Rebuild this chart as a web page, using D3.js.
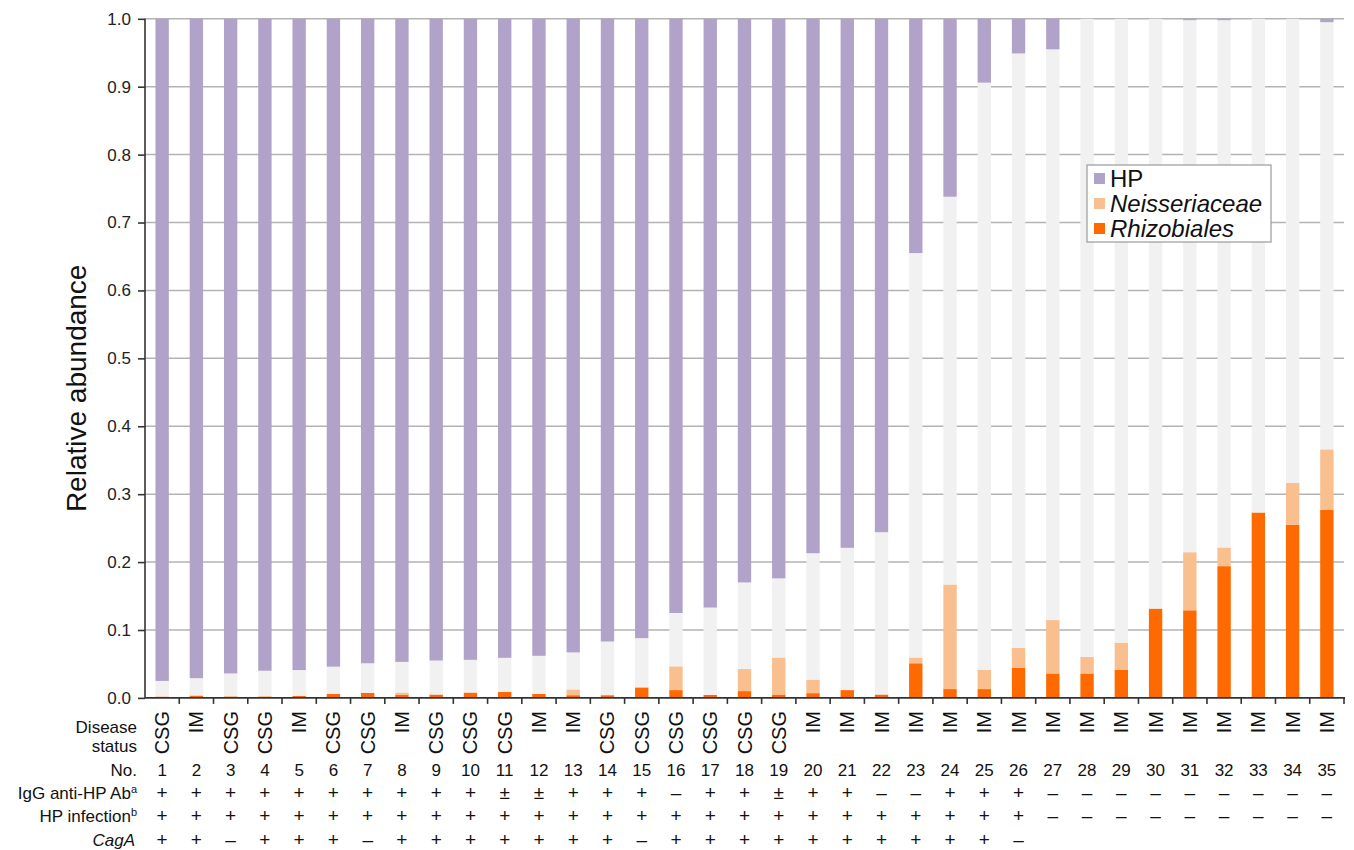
<!DOCTYPE html>
<html>
<head>
<meta charset="utf-8">
<script src="https://cdn.jsdelivr.net/npm/d3@7"></script>
<style>
  html, body { margin: 0; padding: 0; background: #fff; }
  svg { display: block; font-family: "Liberation Sans", Arial, sans-serif; }
</style>
</head>
<body>
<svg id="chart" width="1354" height="850"></svg>
<script>
// Sample numbers 1–35
const sampleNo = d3.range(1, 36);

// Relative abundance of each taxon per sample
const hp = [0.975, 0.971, 0.964, 0.960, 0.959, 0.954, 0.949, 0.947, 0.945, 0.944,
            0.941, 0.938, 0.933, 0.917, 0.912, 0.875, 0.867, 0.830, 0.824, 0.787,
            0.779, 0.756, 0.345, 0.262, 0.094, 0.051, 0.045, 0, 0, 0,
            0.002, 0.002, 0, 0, 0.005];
const neisseriaceae = [0, 0.001, 0.001, 0.002, 0, 0, 0, 0.0035, 0, 0,
            0, 0, 0.0085, 0, 0, 0.035, 0, 0.0325, 0.0545, 0.020,
            0, 0, 0.0085, 0.154, 0.0285, 0.029, 0.0786, 0.0246, 0.040, 0,
            0.0855, 0.0275, 0, 0.062, 0.089];
const rhizobiales = [0.002, 0.003, 0.002, 0.001, 0.003, 0.006, 0.0074, 0.0044, 0.005, 0.0079,
            0.009, 0.006, 0.004, 0.004, 0.0155, 0.0115, 0.0044, 0.010, 0.005, 0.007,
            0.0115, 0.005, 0.051, 0.013, 0.013, 0.0445, 0.036, 0.036, 0.0415, 0.1315,
            0.129, 0.194, 0.273, 0.2547, 0.277];

// Clinical annotations
const diseaseStatus = ["CSG","IM","CSG","CSG","IM","CSG","CSG","IM","CSG","CSG",
            "CSG","IM","IM","CSG","CSG","CSG","CSG","CSG","CSG","IM",
            "IM","IM","IM","IM","IM","IM","IM","IM","IM","IM",
            "IM","IM","IM","IM","IM"];
const igg = ["+","+","+","+","+","+","+","+","+","+",
            "±","±","+","+","+","–","+","+","±","+",
            "+","–","–","+","+","+","–","–","–","–",
            "–","–","–","–","–"];
const hpInfection = ["+","+","+","+","+","+","+","+","+","+",
            "+","+","+","+","+","+","+","+","+","+",
            "+","+","+","+","+","+","–","–","–","–",
            "–","–","–","–","–"];
const cagA = ["+","+","–","+","+","+","–","+","+","+",
            "+","+","+","+","–","+","+","+","+","+",
            "+","+","+","+","+","–","","","","",
            "","","","",""];

const yTicks = [0, 0.1, 0.2, 0.3, 0.4, 0.5, 0.6, 0.7, 0.8, 0.9, 1.0];

const colors = {
  hp: "#b1a2c9",
  other: "#f1f1f1",
  neis: "#f9bf8f",
  rhiz: "#ff6a00"
};

const svg = d3.select("#chart");
const plotLeft = 145, plotRight = 1344, plotTop = 18.8, plotBottom = 697.9;

const x = d3.scaleBand().domain(sampleNo).range([plotLeft, plotRight])
  .paddingInner(0.61).paddingOuter(0.305);
const y = d3.scaleLinear().domain([0, 1]).range([plotBottom, plotTop]);

// Stack order from the baseline: Rhizobiales, Neisseriaceae, remaining taxa, HP
const rows = sampleNo.map((n, i) => ({
  no: n,
  rhiz: rhizobiales[i],
  neis: neisseriaceae[i],
  other: Math.max(0, 1 - rhizobiales[i] - neisseriaceae[i] - hp[i]),
  hp: hp[i]
}));
const keys = ["rhiz", "neis", "other", "hp"];
const series = d3.stack().keys(keys)(rows);

// Horizontal gridlines
svg.append("g").selectAll("line").data(yTicks.filter(t => t > 0)).join("line")
  .attr("x1", plotLeft).attr("x2", plotRight)
  .attr("y1", d => y(d)).attr("y2", d => y(d))
  .attr("stroke", "#b3b3b3").attr("stroke-width", 1.5);

// Bars
svg.append("g").selectAll("g").data(series).join("g")
  .attr("fill", d => colors[d.key])
  .selectAll("rect").data(d => d).join("rect")
  .attr("x", d => x(d.data.no))
  .attr("width", x.bandwidth())
  .attr("y", d => y(d[1]))
  .attr("height", d => Math.max(0, y(d[0]) - y(d[1])));

// Y axis
const yAxis = d3.axisLeft(y).tickValues(yTicks).tickFormat(d3.format(".1f"))
  .tickSize(7).tickPadding(7);
const gy = svg.append("g").attr("transform", `translate(${plotLeft},0)`).call(yAxis);
gy.select(".domain").attr("stroke", "#333").attr("stroke-width", 1.6).attr("d", `M0,${plotBottom}V${plotTop}`);
gy.selectAll(".tick line").attr("stroke", "#333").attr("stroke-width", 1.6);
gy.selectAll(".tick text").attr("font-size", 17).attr("fill", "#222")
  .attr("font-family", "Liberation Sans, Arial, sans-serif");

// X baseline with ticks between samples
svg.append("line").attr("x1", plotLeft).attr("x2", plotRight + 1)
  .attr("y1", plotBottom).attr("y2", plotBottom)
  .attr("stroke", "#333").attr("stroke-width", 1.6);
const step = x.step();
svg.append("g").selectAll("line").data(sampleNo).join("line")
  .attr("x1", d => x(d) + x.bandwidth() / 2 + step / 2)
  .attr("x2", d => x(d) + x.bandwidth() / 2 + step / 2)
  .attr("y1", plotBottom).attr("y2", plotBottom + 6)
  .attr("stroke", "#333").attr("stroke-width", 1.6);

// Y axis title
svg.append("text")
  .attr("transform", `translate(86,${(plotTop + plotBottom) / 2 + 30}) rotate(-90)`)
  .attr("text-anchor", "middle")
  .attr("font-size", 28).attr("fill", "#111")
  .text("Relative abundance");

// Annotation table under the bars
const cx = d => x(d) + x.bandwidth() / 2;
const labelX = 137;
const fs = 17;
const table = svg.append("g").attr("font-size", fs).attr("fill", "#111");

table.append("text").attr("x", labelX).attr("y", 733).attr("text-anchor", "end").text("Disease");
table.append("text").attr("x", labelX).attr("y", 752).attr("text-anchor", "end").text("status");
table.selectAll(".ds").data(sampleNo).join("text")
  .attr("class", "ds")
  .attr("transform", d => `translate(${cx(d) + 7},711) rotate(-90)`)
  .attr("text-anchor", "end")
  .attr("font-size", 20)
  .text((d, i) => diseaseStatus[i]);

const rowY = { no: 776, igg: 799, inf: 822, cag: 846 };
table.append("text").attr("x", labelX).attr("y", rowY.no).attr("text-anchor", "end").text("No.");
table.selectAll(".no").data(sampleNo).join("text")
  .attr("class", "no").attr("x", cx).attr("y", rowY.no)
  .attr("text-anchor", "middle").text(d => d);

const iggLabel = table.append("text").attr("x", labelX).attr("y", rowY.igg).attr("text-anchor", "end");
iggLabel.append("tspan").text("IgG anti-HP Ab");
iggLabel.append("tspan").attr("font-size", 11).attr("dy", -6).text("a");

const infLabel = table.append("text").attr("x", labelX).attr("y", rowY.inf).attr("text-anchor", "end");
infLabel.append("tspan").text("HP infection");
infLabel.append("tspan").attr("font-size", 11).attr("dy", -6).text("b");

table.append("text").attr("x", labelX - 2).attr("y", rowY.cag).attr("text-anchor", "end")
  .attr("font-style", "italic").text("CagA");

function signRow(values, yy) {
  table.append("g").selectAll("text").data(sampleNo).join("text")
    .attr("x", cx).attr("y", yy).attr("text-anchor", "middle")
    .attr("font-size", 19)
    .text((d, i) => values[i]);
}
signRow(igg, rowY.igg);
signRow(hpInfection, rowY.inf);
signRow(cagA, rowY.cag);

// Legend
const legend = svg.append("g").attr("transform", "translate(1087,165)");
legend.append("rect").attr("width", 184).attr("height", 77)
  .attr("fill", "#fff").attr("stroke", "#9a9a9a").attr("stroke-width", 1.2);
const legendItems = [
  { key: "hp", label: "HP", italic: false },
  { key: "neis", label: "Neisseriaceae", italic: true },
  { key: "rhiz", label: "Rhizobiales", italic: true }
];
const li = legend.selectAll("g").data(legendItems).join("g")
  .attr("transform", (d, i) => `translate(7,${13 + i * 25})`);
li.append("rect").attr("x", 0).attr("y", -5).attr("width", 11).attr("height", 11)
  .attr("fill", d => colors[d.key]);
li.append("text").attr("x", 16).attr("y", 9)
  .attr("font-size", 24).attr("fill", "#111")
  .attr("font-style", d => d.italic ? "italic" : "normal")
  .text(d => d.label);
</script>
</body>
</html>
